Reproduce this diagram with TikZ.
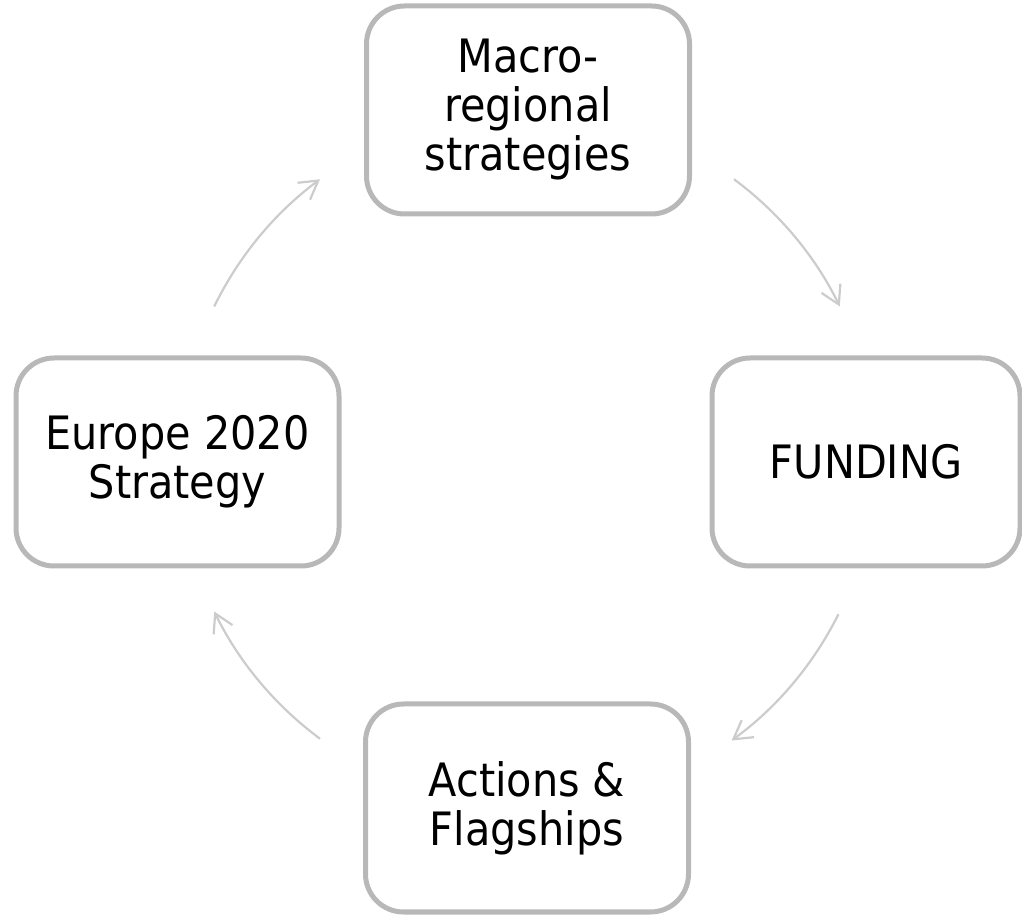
\documentclass[tikz,border=0pt]{standalone}
\usepackage{fontspec}
\setmainfont{DejaVu Sans Condensed}
\usetikzlibrary{positioning,arrows.meta}

\definecolor{boxgray}{RGB}{184,184,184}
\definecolor{arcgray}{RGB}{204,204,204}

\tikzset{
    stage/.style={draw=boxgray, line width=2.5pt, rounded corners=19pt,
        minimum width=161.5pt, minimum height=104pt, align=center,
        font=\fontsize{23}{24.5}\selectfont},
    cyclearrow/.style={draw=arcgray, line width=1.1pt,
        -{Straight Barb[length=9pt,width=10.5pt,line width=1.1pt]}}
}

\begin{document}
\begin{tikzpicture}[x=0.5pt, y=0.5pt]
    \useasboundingbox (0,0) rectangle (1022,915);
    \coordinate (c) at (527,456);

    \node[stage] at (528,805)(macro) {Macro-\\regional\\strategies};
    \node[stage, minimum width=154pt] at (866,453)(funding) {FUNDING};
    \node[stage] at (527,107)(actions) {Actions \&\\Flagships};
    \node[stage] at (177.5,453)(europe) {Europe 2020\\Strategy};

    % arcs between the stages, on one circle round the centre
    \foreach \a in {154,53.5,-26.5,-126.5}
    {
        \draw[cyclearrow] ([shift={(\a:174pt)}]c) arc[start angle=\a, end angle=\a-27.5, radius=174pt];
    }
\end{tikzpicture}
\end{document}
